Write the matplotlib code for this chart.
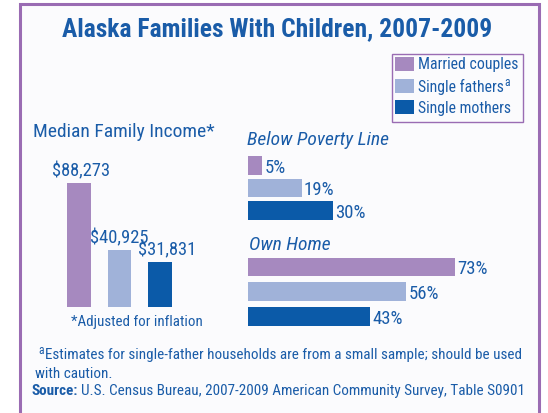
import os
import matplotlib.pyplot as plt
from matplotlib import font_manager as fm
from matplotlib.font_manager import FontProperties
from matplotlib.patches import Rectangle

# data
groups = ["Married couples", "Single fathers", "Single mothers"]
income = [88273, 40925, 31831]
income_labels = ["$88,273", "$40,925", "$31,831"]
poverty = [5, 19, 30]
own_home = [73, 56, 43]

colors = ["#a689bf", "#a0b2d9", "#0b5aa8"]
blue = "#1a5ca8"
purple = "#9a6cb3"

PREF = ["liberation sans narrow", "roboto condensed", "open sans condensed", "dejavu sans", "noto sans",
        "roboto", "open sans"]


def wnum(w):
    if isinstance(w, (int, float)):
        return w
    return fm.weight_dict.get(w, 400)


def pick(bold=False, italic=False):
    best, best_score = None, None
    for f in fm.fontManager.ttflist:
        fn = os.path.basename(f.fname).lower()
        nm = f.name.lower()
        narrow = ("narrow" in fn or "condensed" in fn or "narrow" in nm or "condensed" in nm
                  or f.stretch in ("condensed", "semi-condensed", 500, 600, 625))
        if not narrow or "extra" in fn or "ultra" in fn:
            continue
        fam = next((i for i, p in enumerate(PREF) if nm.startswith(p)), 99)
        w = wnum(f.weight)
        it = f.style in ("italic", "oblique")
        score = fam * 10 + abs(w - (700 if bold else 400)) / 100 + (0 if it == italic else 50)
        if best_score is None or score < best_score:
            best, best_score = f.fname, score
    return best


def fp(size, bold=False, italic=False):
    path = pick(bold, italic)
    if path:
        return FontProperties(fname=path, size=size)
    return FontProperties(family="DejaVu Sans", size=size * 0.85,
                          weight="bold" if bold else "normal", style="italic" if italic else "normal")


W, H = 548, 414
fig = plt.figure(figsize=(W / 100, H / 100), dpi=100)
fig.patch.set_facecolor("white")
renderer = fig.canvas.get_renderer()


def fx(px):
    return px / W


def fy(py):
    return 1 - py / H


def rect(left, top, width, height):
    return [fx(left), fy(top + height), width / W, height / H]


def text_px(x, y, s, prop, **kw):
    return fig.text(fx(x), fy(y), s, fontproperties=prop, color=blue, va="center", **kw)


def right_px(t):
    return t.get_window_extent(renderer).x1


# frame
fig.add_artist(Rectangle((fx(20), fy(416)), fx(519), 411 / H, transform=fig.transFigure,
                         facecolor="#fbfbfd", edgecolor=purple, lw=2.2, zorder=-5))

text_px(277.5, 29, "Alaska Families With Children, 2007-2009", fp(18.4, bold=True), ha="center")

# legend (drawn by hand to match the boxed key)
fig.add_artist(Rectangle((fx(392), fy(123)), fx(131), 68 / H, transform=fig.transFigure,
                         facecolor="none", edgecolor=purple, lw=1))
leg_y = [65, 87, 108]
for c, lab, yy in zip(colors, groups, leg_y):
    fig.add_artist(Rectangle((fx(395), fy(yy + 7)), fx(19), 14 / H, transform=fig.transFigure,
                             facecolor=c, edgecolor="none"))
    t = text_px(418, yy, lab, fp(11.3), ha="left")
    if lab == "Single fathers":
        fig.text(right_px(t) / W + 0.001, fy(yy - 4), "a", fontproperties=fp(8.5), color=blue,
                 va="center", ha="left")

# median income
ax1 = fig.add_axes(rect(58.75, 184, 121.5, 124))
ax1.bar(range(3), income, width=0.59, color=colors)
ax1.set_xlim(-0.5, 2.5)
ax1.set_ylim(0, max(income))
ax1.axis("off")
offsets = [0.05, 0, 0.18]
for i, (v, lab) in enumerate(zip(income, income_labels)):
    ax1.text(i + offsets[i], v + 2500, lab, ha="center", va="bottom", fontproperties=fp(13.3),
             color=blue, clip_on=False)

text_px(33, 132, "Median Family Income*", fp(14), ha="left")
text_px(136.5, 322, "*Adjusted for inflation", fp(10.8), ha="center")

# poverty and home ownership
px_per_pct = 2.83


def hbars(top, height, vals, bar_h):
    ax = fig.add_axes(rect(248, top, 100 * px_per_pct, height))
    ax.barh(range(3), vals, height=bar_h, color=colors)
    ax.set_xlim(0, 100)
    ax.set_ylim(2.5, -0.5)
    ax.axis("off")
    for i, v in enumerate(vals):
        ax.text(v + 0.8, i + 0.05, f"{v}%", ha="left", va="center", fontproperties=fp(13.5),
                color=blue)
    return ax


hbars(155.25, 67.5, poverty, 0.84)
hbars(255.6, 74.3, own_home, 0.75)

text_px(247, 140, "Below Poverty Line", fp(14, italic=True), ha="left")
text_px(249, 245, "Own Home", fp(14, italic=True), ha="left")

# footnotes
text_px(38, 351, "a", fp(8.3), ha="left")
text_px(45, 355, "Estimates for single-father households are from a small sample; should be used",
        fp(10.9), ha="left")
text_px(35, 374, "with caution.", fp(10.9), ha="left")
src = text_px(32, 391, "Source:", fp(10.9, bold=True), ha="left")
text_px(right_px(src) + 3, 391, "U.S. Census Bureau, 2007-2009 American Community Survey, Table S0901",
        fp(10.9), ha="left")

fig.savefig("out.png", dpi=100)
